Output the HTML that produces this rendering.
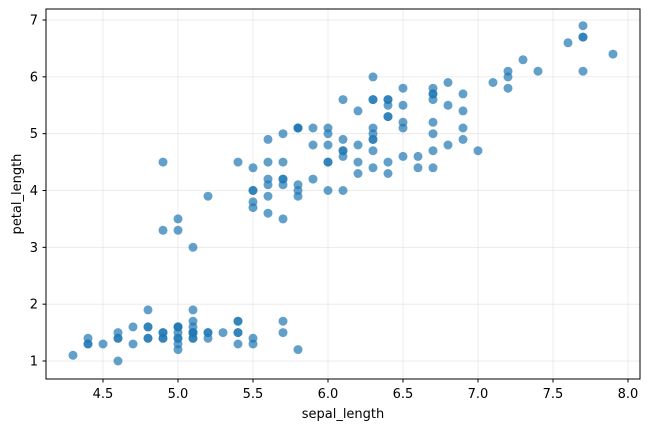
<!DOCTYPE html>
<html><head><meta charset="utf-8"><style>
body{margin:0;background:#fff;}
svg text{font-family:"DejaVu Sans","Liberation Sans",sans-serif;font-size:13px;fill:#000;}
</style></head><body>
<svg id="s" width="650" height="429" xmlns="http://www.w3.org/2000/svg">
<rect width="650" height="429" fill="#fff"/>
<g id="grid"></g>
<g id="pts" fill="#1f77b4" fill-opacity="0.7"></g>
<rect x="46" y="9" width="594" height="370" fill="none" stroke="#000" stroke-width="1"/>
<g id="ticks"></g>
<text x="343" y="418" text-anchor="middle">sepal_length</text>
<text transform="translate(21,194) rotate(-90)" text-anchor="middle">petal_length</text>
</svg>
<script>
var d="5.1 1.4,4.9 1.4,4.7 1.3,4.6 1.5,5.0 1.4,5.4 1.7,4.6 1.4,5.0 1.5,4.4 1.4,4.9 1.5,5.4 1.5,4.8 1.6,4.8 1.4,4.3 1.1,5.8 1.2,5.7 1.5,5.4 1.3,5.1 1.4,5.7 1.7,5.1 1.5,5.4 1.7,5.1 1.5,4.6 1.0,5.1 1.7,4.8 1.9,5.0 1.6,5.0 1.6,5.2 1.5,5.2 1.4,4.7 1.6,4.8 1.6,5.4 1.5,5.2 1.5,5.5 1.4,4.9 1.5,5.0 1.2,5.5 1.3,4.9 1.4,4.4 1.3,5.1 1.5,5.0 1.3,4.5 1.3,4.4 1.3,5.0 1.6,5.1 1.9,4.8 1.4,5.1 1.6,4.6 1.4,5.3 1.5,5.0 1.4,7.0 4.7,6.4 4.5,6.9 4.9,5.5 4.0,6.5 4.6,5.7 4.5,6.3 4.7,4.9 3.3,6.6 4.6,5.2 3.9,5.0 3.5,5.9 4.2,6.0 4.0,6.1 4.7,5.6 3.6,6.7 4.4,5.6 4.5,5.8 4.1,6.2 4.5,5.6 3.9,5.9 4.8,6.1 4.0,6.3 4.9,6.1 4.7,6.4 4.3,6.6 4.4,6.8 4.8,6.7 5.0,6.0 4.5,5.7 3.5,5.5 3.8,5.5 3.7,5.8 3.9,6.0 5.1,5.4 4.5,6.0 4.5,6.7 4.7,6.3 4.4,5.6 4.1,5.5 4.0,5.5 4.4,6.1 4.6,5.8 4.0,5.0 3.3,5.6 4.2,5.7 4.2,5.7 4.2,6.2 4.3,5.1 3.0,5.7 4.1,6.3 6.0,5.8 5.1,7.1 5.9,6.3 5.6,6.5 5.8,7.6 6.6,4.9 4.5,7.3 6.3,6.7 5.8,7.2 6.1,6.5 5.1,6.4 5.3,6.8 5.5,5.7 5.0,5.8 5.1,6.4 5.3,6.5 5.5,7.7 6.7,7.7 6.9,6.0 5.0,6.9 5.7,5.6 4.9,7.7 6.7,6.3 4.9,6.7 5.7,7.2 6.0,6.2 4.8,6.1 4.9,6.4 5.6,7.2 5.8,7.4 6.1,7.9 6.4,6.4 5.6,6.3 5.1,6.1 5.6,7.7 6.1,6.3 5.6,6.4 5.5,6.0 4.8,6.9 5.4,6.7 5.6,6.9 5.1,5.8 5.1,6.8 5.9,6.7 5.7,6.7 5.2,6.3 5.0,6.5 5.2,6.2 5.4,5.9 5.1";
function X(v){return 103+(v-4.5)*150;}
function Y(v){return 361-(v-1)*56.83;}
var ns="http://www.w3.org/2000/svg",h="";
d.split(",").forEach(function(p){var a=p.split(" ");h+='<circle cx="'+X(+a[0]).toFixed(1)+'" cy="'+Y(+a[1]).toFixed(1)+'" r="4.5"/>';});
document.getElementById("pts").innerHTML=h;
var g="",t="";
[4.5,5.0,5.5,6.0,6.5,7.0,7.5,8.0].forEach(function(v){var x=X(v);g+='<line x1="'+x+'" x2="'+x+'" y1="9" y2="379" stroke="#b0b0b0" stroke-opacity="0.3" stroke-width="0.8"/>';t+='<line x1="'+x+'" x2="'+x+'" y1="379" y2="382.5" stroke="#000"/><text x="'+x+'" y="398" text-anchor="middle">'+v.toFixed(1)+'</text>';});
[1,2,3,4,5,6,7].forEach(function(v){var y=Y(v);g+='<line x1="46" x2="640" y1="'+y+'" y2="'+y+'" stroke="#b0b0b0" stroke-opacity="0.3" stroke-width="0.8"/>';t+='<line x1="42.5" x2="46" y1="'+y+'" y2="'+y+'" stroke="#000"/><text x="38" y="'+(y+4.5)+'" text-anchor="end">'+v+'</text>';});
document.getElementById("grid").innerHTML=g;
document.getElementById("ticks").innerHTML=t;
</script>
</body></html>
